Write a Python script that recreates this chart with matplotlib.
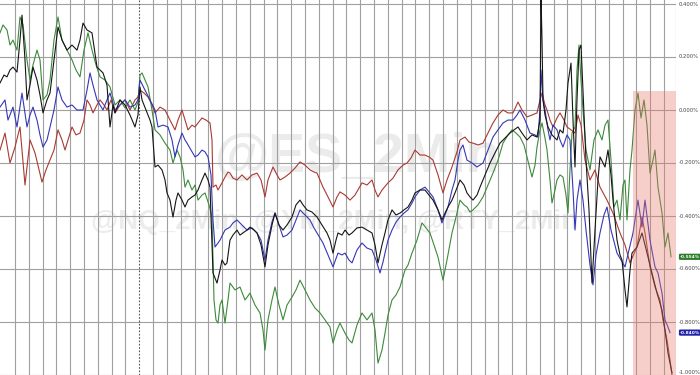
import numpy as np
import matplotlib
matplotlib.use("Agg")
import matplotlib.pyplot as plt
from matplotlib.patches import Rectangle

# ---- data (time index = 2-min bar number, value = % change) ----
green_t = [0,3,7,10,13,17,20,23,27,30,33,37,40,43,47,50,54,58,62,67,72,76,80,84,88,92,96,100,105,110,115,120,125,130,135,138,
           140,142,145,148,152,155,160,165,170,173,177,180,183,185,188,192,195,198,202,205,209,212,214,216,218,220,222,224,225,228,
           230,235,240,245,250,255,260,263,265,268,272,275,279,283,287,292,296,300,305,310,315,320,325,330,333,337,340,345,349,352,
           357,362,367,372,375,378,382,385,388,392,396,400,405,408,412,417,422,426,430,434,438,443,447,452,457,460,464,467,470,473,
           478,483,488,493,498,503,508,512,516,520,524,527,532,535,537,540,542,545,547,550,552,555,557,560,563,566,568,570,572,575,
           577,579,581,583,586,590,594,598,602,605,608,611,614,617,620,623,625,627,630,632,635,638,641,644,647,650,653,655,658,662,
           665,668,671]
green_v = [0.291,0.321,0.302,0.245,0.264,0.226,0.351,0.321,0.189,0.113,0.170,0.226,0.189,0.038,0.057,0.113,0.264,0.351,0.264,0.226,
           0.189,0.151,0.125,0.226,0.291,0.226,0.170,0.125,0.113,0.087,0.019,0.038,0.008,0.038,0.000,0.030,
           0.132,0.140,0.113,0.087,0.000,-0.075,-0.094,-0.125,-0.151,-0.200,-0.151,-0.177,-0.226,-0.291,-0.264,-0.302,-0.283,-0.340,
           -0.321,-0.313,-0.358,-0.404,-0.717,-0.792,-0.804,-0.736,-0.717,-0.774,-0.804,-0.717,
           -0.653,-0.679,-0.668,-0.717,-0.691,-0.736,-0.766,-0.830,-0.906,-0.792,-0.717,-0.668,-0.736,-0.792,-0.736,-0.706,-0.679,
           -0.642,-0.679,-0.717,-0.747,-0.766,-0.792,-0.819,-0.879,-0.830,-0.804,-0.842,-0.868,-0.879,
           -0.811,-0.766,-0.792,-0.766,-0.830,-0.955,-0.906,-0.842,-0.774,-0.717,-0.698,-0.668,-0.604,-0.585,-0.540,-0.491,-0.426,
           -0.445,-0.464,-0.509,-0.555,-0.642,-0.566,-0.464,-0.389,-0.340,-0.358,-0.366,-0.385,-0.377,
           -0.358,-0.328,-0.283,-0.238,-0.189,-0.125,-0.094,-0.075,-0.087,-0.102,-0.132,-0.177,-0.253,-0.208,-0.140,-0.075,-0.049,
           -0.106,-0.151,-0.264,-0.351,-0.302,-0.264,-0.245,-0.253,-0.321,-0.389,-0.226,-0.087,-0.064,
           0.151,0.245,0.113,0.000,-0.151,-0.226,-0.113,-0.075,-0.113,-0.057,-0.038,-0.189,-0.366,-0.340,-0.415,-0.283,-0.264,-0.415,
           -0.226,-0.151,0.000,0.064,-0.030,0.038,-0.057,-0.238,-0.189,-0.151,-0.291,-0.389,
           -0.517,-0.464,-0.554]

black_t = [0,4,7,10,13,17,20,22,25,27,30,33,37,40,43,47,50,54,58,62,67,72,77,80,83,87,92,97,100,103,107,110,113,115,120,125,130,135,138,
           140,142,146,150,152,155,158,162,165,167,170,173,176,178,182,185,188,192,195,198,202,205,208,210,213,217,220,222,225,227,
           230,233,237,240,243,247,250,254,257,261,265,268,272,275,279,283,287,292,296,300,303,307,312,317,322,327,330,333,336,338,
           342,345,349,352,357,362,367,372,375,378,382,385,388,392,396,400,404,408,412,415,420,425,429,433,438,442,445,448,452,455,
           460,464,467,470,473,477,480,485,490,495,500,505,510,514,518,522,527,532,537,540,541,542,543,545,548,552,557,560,563,566,
           568,571,573,575,577,579,581,583,586,589,592,595,598,600,605,608,611,613,617,620,622,625,627,630,632,637,642,647,652,657,
           662,665,668,672]
black_v = [0.102,0.132,0.125,0.151,0.162,0.143,0.264,0.358,0.189,0.038,0.094,0.162,0.113,0.057,-0.011,0.038,0.064,0.189,0.313,0.264,
           0.226,0.245,0.226,0.264,0.328,0.302,0.291,0.162,0.151,0.140,0.094,-0.064,0.019,-0.011,0.038,0.019,-0.019,-0.064,-0.019,
           0.087,0.038,0.000,-0.038,-0.064,-0.215,-0.208,-0.226,-0.264,-0.313,-0.340,-0.404,-0.340,-0.313,-0.340,-0.366,-0.340,
           -0.328,-0.321,-0.302,-0.264,-0.238,-0.264,-0.291,-0.615,-0.653,-0.604,-0.566,-0.585,-0.577,
           -0.491,-0.472,-0.453,-0.472,-0.464,-0.453,-0.442,-0.453,-0.464,-0.509,-0.592,-0.509,-0.434,-0.389,-0.434,-0.453,-0.434,
           -0.404,-0.358,-0.340,-0.358,-0.377,-0.385,-0.404,-0.434,-0.464,-0.491,-0.540,-0.491,-0.464,
           -0.472,-0.453,-0.472,-0.464,-0.445,-0.442,-0.453,-0.464,-0.509,-0.577,-0.509,-0.464,-0.415,-0.377,-0.396,-0.389,-0.377,
           -0.366,-0.340,-0.313,-0.302,-0.302,-0.321,-0.340,-0.377,-0.415,-0.389,-0.366,-0.340,-0.313,
           -0.264,-0.283,-0.313,-0.328,-0.340,-0.321,-0.291,-0.245,-0.200,-0.162,-0.125,-0.106,-0.087,-0.075,-0.064,-0.087,-0.113,
           -0.094,-0.102,-0.038,0.434,0.264,0.038,-0.019,-0.064,-0.094,-0.113,-0.075,-0.087,0.000,
           0.102,0.177,-0.038,-0.215,0.038,0.226,0.245,0.075,-0.189,-0.377,-0.653,-0.453,-0.264,-0.177,-0.215,-0.151,-0.245,-0.340,
           -0.491,-0.547,-0.566,-0.679,-0.743,-0.604,-0.540,-0.517,-0.464,-0.540,-0.615,-0.691,
           -0.755,-0.830,-0.917,-0.992]

blue_t = [0,5,8,13,17,22,27,30,33,37,40,43,47,50,54,58,62,67,72,77,83,87,90,93,97,103,107,110,115,120,125,130,135,138,
          140,145,150,155,158,163,168,172,175,178,182,185,187,191,195,198,202,205,208,211,213,215,218,220,225,230,233,237,242,247,
          252,257,261,265,268,272,275,279,283,287,292,296,300,305,310,314,317,323,328,333,338,342,345,349,352,357,362,367,372,376,
          380,383,385,388,392,396,400,404,408,412,415,420,425,429,433,438,442,445,448,452,455,458,460,463,467,472,477,483,488,493,
          498,503,508,513,517,520,525,530,535,538,540,541,543,545,548,550,553,557,560,563,567,570,573,575,577,580,583,586,590,593,
          596,600,604,607,611,617,621,625,629,633,638,642,645,650,655,658,662,665,668,670]
blue_v = [0.011,0.038,-0.038,0.011,-0.064,0.064,-0.064,-0.019,0.011,-0.038,-0.094,-0.140,-0.113,-0.064,0.000,0.087,0.038,0.011,0.019,
          0.000,0.000,0.075,0.140,0.094,0.038,0.000,0.038,0.064,0.000,0.019,0.038,0.011,0.019,0.038,
          0.113,0.075,0.038,0.000,-0.064,-0.057,-0.064,-0.113,-0.177,-0.132,-0.087,-0.113,-0.125,-0.151,-0.177,-0.170,-0.151,-0.158,
          -0.177,-0.245,-0.415,-0.517,-0.502,-0.491,-0.453,-0.442,-0.426,-0.415,-0.434,-0.453,
          -0.445,-0.464,-0.491,-0.566,-0.491,-0.423,-0.389,-0.434,-0.479,-0.472,-0.453,-0.415,-0.377,-0.396,-0.415,-0.445,-0.464,
          -0.502,-0.547,-0.592,-0.540,-0.547,-0.540,-0.566,-0.577,-0.528,-0.502,-0.521,-0.528,-0.566,
          -0.615,-0.574,-0.540,-0.491,-0.453,-0.423,-0.404,-0.389,-0.377,-0.351,-0.328,-0.302,-0.291,-0.309,-0.328,-0.377,-0.426,
          -0.396,-0.366,-0.302,-0.264,-0.189,-0.151,-0.132,-0.189,-0.200,-0.215,-0.200,-0.151,-0.102,
          -0.075,-0.049,-0.038,-0.038,-0.019,0.000,-0.038,-0.087,-0.094,-0.102,0.000,0.151,0.038,0.000,-0.075,-0.113,-0.057,-0.075,
          -0.113,-0.140,-0.094,-0.113,-0.302,-0.453,-0.340,-0.264,-0.340,-0.453,-0.585,-0.660,
          -0.547,-0.464,-0.396,-0.366,-0.453,-0.540,-0.566,-0.592,-0.528,-0.464,-0.340,-0.442,-0.340,-0.491,-0.592,-0.615,-0.691,
          -0.792,-0.819,-0.840]

red_t = [0,5,10,15,20,25,30,35,42,46,50,54,58,62,65,68,72,76,80,84,87,90,93,97,100,104,107,111,115,120,125,130,135,138,
         140,144,148,152,155,160,165,170,175,178,182,185,188,192,195,198,202,206,210,212,213,216,218,222,225,228,
         230,233,237,242,247,252,257,261,265,268,273,277,280,285,290,295,300,305,310,314,317,320,323,328,333,337,340,345,350,355,
         362,367,372,375,378,382,388,393,398,403,407,411,415,420,425,429,433,438,443,447,452,457,460,465,469,473,478,483,488,493,
         498,503,508,513,518,522,527,532,537,540,542,545,547,550,553,557,560,564,567,571,575,578,581,585,590,595,600,607,613,620,
         625,630,637,642,645,650,655,660,663,667,670,672]
red_v = [-0.151,-0.087,-0.200,-0.140,-0.064,-0.283,-0.113,-0.162,-0.272,-0.226,-0.189,-0.151,-0.075,-0.113,-0.151,-0.113,-0.064,
         -0.094,-0.087,-0.038,0.038,0.019,-0.011,0.019,0.038,0.019,0.000,0.038,-0.011,0.019,0.038,0.000,0.038,0.049,
         0.075,0.064,0.049,0.019,-0.011,0.011,0.000,-0.038,-0.075,-0.038,0.000,-0.038,-0.075,-0.057,-0.064,-0.049,-0.030,-0.038,
         -0.049,-0.113,-0.291,-0.283,-0.302,-0.275,-0.253,-0.234,
         -0.238,-0.257,-0.264,-0.245,-0.264,-0.245,-0.238,-0.264,-0.328,-0.264,-0.215,-0.245,-0.264,-0.253,-0.238,-0.219,-0.196,
         -0.208,-0.226,-0.234,-0.238,-0.264,-0.291,-0.328,-0.366,-0.328,-0.309,-0.321,-0.340,-0.321,
         -0.275,-0.283,-0.264,-0.302,-0.328,-0.302,-0.275,-0.257,-0.226,-0.208,-0.200,-0.181,-0.151,-0.170,-0.170,-0.177,-0.189,
         -0.245,-0.313,-0.264,-0.215,-0.158,-0.113,-0.102,-0.121,-0.125,-0.132,-0.125,-0.087,-0.049,
         -0.019,0.000,-0.011,-0.011,0.030,0.000,-0.026,-0.019,-0.011,0.038,0.064,0.019,0.000,-0.038,-0.064,-0.030,-0.011,-0.038,
         -0.064,-0.075,-0.087,-0.019,-0.057,-0.189,-0.264,-0.226,-0.291,-0.340,-0.389,-0.464,
         -0.509,-0.577,-0.517,-0.404,-0.464,-0.592,-0.668,-0.717,-0.792,-0.868,-0.943,-1.000]

y_ticks = [0.4, 0.2, 0.0, -0.2, -0.4, -0.6, -0.8, -1.0]
last_labels = [("-0.554%", -0.554, "#2e7d2e"), ("-0.840%", -0.840, "#2323a8")]
watermark_main = "@ES_2Min"
watermark_sub = "@NQ_2Min, @YM_2Min, @RTY_2Min"

# ---- figure ----
W, H = 700, 375
YMIN, YMAX = -1.0, 110 / 265
fig = plt.figure(figsize=(W / 100, H / 100), dpi=100)
ax = fig.add_axes([0, 0, 676 / W, 1])
ax.set_xlim(0, 676)
ax.set_ylim(YMIN, YMAX)
ax.set_facecolor("white")

# grid
for v in y_ticks:
    ax.axhline(v, color="#a0a0a0", lw=0.8, zorder=1)
grid_x = 15 + 13.81 * np.arange(48)
for i, gx in enumerate(grid_x):
    if i == 9:
        ax.axvline(gx, color="#555555", lw=0.8, ls=(0, (1.5, 1.5)), zorder=1)
    else:
        ax.axvline(gx, color="#a0a0a0", lw=0.8, zorder=1)
ax.axvline(675.5, color="#a0a0a0", lw=0.8, zorder=1)

# watermarks
ax.text(358, -0.181, watermark_main, fontsize=40, fontweight="bold", color="#ebebeb",
        family="Liberation Sans", ha="center", va="center", zorder=0.5)
ax.text(335, -0.423, watermark_sub, fontsize=20, fontweight="bold",
        color="#ececec", family="Liberation Sans", ha="center", va="center", zorder=0.5)

# series
lw = 0.8
ax.plot(red_t, red_v, color="#a83a32", lw=lw, zorder=2)
ax.plot(green_t, green_v, color="#3c8a3a", lw=lw, zorder=2.1)
ax.plot(blue_t, blue_v, color="#3636b8", lw=lw, zorder=2.2)
ax.plot(black_t, black_v, color="#151515", lw=lw, zorder=2.3)

# highlighted region (overlay)
ax.add_patch(Rectangle((632.7, YMIN), 676 - 632.7, 0.072 - YMIN, facecolor="#e8786c",
                       alpha=0.35, edgecolor="none", zorder=3))

for s in ax.spines.values():
    s.set_visible(False)
ax.set_xticks([])
ax.set_yticks([])

# right-side axis labels
def fy(v):
    return (v - YMIN) / (YMAX - YMIN)

for v in y_ticks:
    ypos = max(fy(v), 0.0)
    va = "bottom" if fy(v) <= 0.005 else "center"
    fig.text(678.5 / W, ypos + (0.001 if va == "bottom" else 0), f"{v:.3f}%", fontsize=3.8,
             color="#444444", ha="left", va=va)

for txt, v, col in last_labels:
    fig.text(680 / W, fy(v), txt, fontsize=3.2, color="white",
             fontweight="bold", ha="left", va="center",
             bbox=dict(boxstyle="round,pad=0.25,rounding_size=0.3", fc=col, ec="none"))

fig.savefig("out.png", dpi=100)
